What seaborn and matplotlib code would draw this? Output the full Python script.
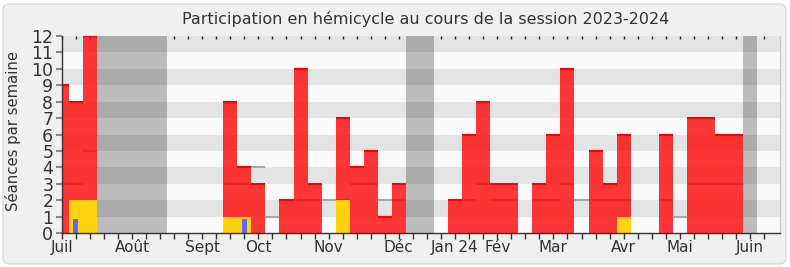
import numpy as np
import pandas as pd
import matplotlib
matplotlib.use("Agg")
import matplotlib.pyplot as plt
from matplotlib.patches import FancyBboxPatch
import seaborn as sns

# ---- data (weeks of the 2023-2024 session, week 0 = first week of July) ----
weeks = list(range(51))
seances_weeks = [0, 1, 2, 12, 13, 14, 16, 17, 18, 20, 21, 22, 23, 24, 28, 29, 30, 31, 32,
                 34, 35, 36, 38, 39, 40, 43, 45, 46, 47, 48]
seances_vals = [9, 8, 12, 8, 4, 3, 2, 10, 3, 7, 4, 5, 1, 3, 2, 6, 8, 3, 3,
                3, 6, 10, 5, 3, 6, 6, 7, 7, 6, 6]
interv_weeks = [1, 2, 12, 13, 20, 40]
interv_vals = [2, 2, 1, 1, 2, 1]
questions_weeks = [1, 13]
questions_vals = [0.87, 0.87]
median_weeks = [0, 1, 2, 12, 13, 14, 15, 16, 17, 18, 19, 20, 21, 22, 23, 24, 28, 29, 30, 31, 32,
                34, 35, 36, 37, 38, 39, 40, 43, 44, 45, 46, 47, 48]
median_vals = [3, 3, 5, 3, 3, 4, 1, 2, 2, 2, 2, 2, 3, 3, 2, 2, 2, 2, 3, 2, 2,
               2, 2, 3, 2, 2, 2, 2, 2, 1, 3, 3, 3, 3]
vacances_weeks = [3, 4, 5, 6, 7, 25, 26, 49]
month_ticks = [0, 5, 10, 14, 19, 24, 28, 31, 35, 40, 44, 49]
month_labels = ["Juil", "Août", "Sept", "Oct", "Nov", "Déc", "Jan 24", "Fév", "Mar", "Avr", "Mai", "Juin"]


def full(ws, vs):
    d = dict(zip(ws, vs))
    return [d.get(w, 0) for w in weeks]


df = pd.DataFrame({
    "week": weeks,
    "seances": full(seances_weeks, seances_vals),
    "interventions": full(interv_weeks, interv_vals),
    "questions": full(questions_weeks, questions_vals),
})

sns.set_style("white")
plt.rcParams["font.family"] = ["DejaVu Sans"]

W, H = 790, 267
fig = plt.figure(figsize=(W / 100, H / 100), dpi=100)
fig.patch.set_facecolor("white")
frame = FancyBboxPatch((3 / W, 3 / H), 1 - 7 / W, 1 - 7 / H,
                       boxstyle="round,pad=0,rounding_size=0.008",
                       mutation_aspect=W / H,
                       transform=fig.transFigure, fc="#f0f0f0", ec="#dcdcdc", lw=1,
                       zorder=-10)
fig.patches.append(frame)

x0, x1 = 61.7, 780.3
y_top, y_bot = 36, 233
ax = fig.add_axes([x0 / W, 1 - y_bot / H, (x1 - x0) / W, (y_bot - y_top) / H])
ax.set_zorder(5)
ax.set_facecolor("#fafafa")

# vacation bands
for w in vacances_weeks:
    ax.axvspan(w - 0.5, w + 0.5, color="#bcbcbc", lw=0, zorder=0.5)
# alternating stripes
for k in range(1, 12, 2):
    ax.axhspan(k, k + 1, color="black", alpha=0.085, lw=0, zorder=0.6)

# median line
mw = np.array(median_weeks)
ax.hlines(median_vals, mw - 0.5, mw + 0.5, color="#aaaaaa", lw=1.5, zorder=1)

# bars
sns.barplot(data=df, x="week", y="seances", native_scale=True, width=1,
            color="#ff0000", saturation=1, alpha=0.78, errorbar=None,
            linewidth=0, ax=ax, zorder=2)
sw = np.array(seances_weeks)
ax.hlines(seances_vals, sw - 0.5, sw + 0.5, color="#ff0000", lw=1.5, zorder=2.5)
sns.barplot(data=df, x="week", y="interventions", native_scale=True, width=1,
            color="#ffd30f", saturation=1, errorbar=None,
            linewidth=0, ax=ax, zorder=3)
sns.barplot(data=df, x="week", y="questions", native_scale=True, width=0.33,
            color="#6666ff", saturation=1, errorbar=None,
            linewidth=0, ax=ax, zorder=4)

ax.set_xlim(0, 51.15)
ax.set_ylim(0, 12)
ax.set_xlabel("")
ax.set_ylabel("")

ax.set_yticks(range(13))
ax.set_yticklabels([str(v) for v in range(13)], fontsize=12.5, color="#333333")
ax.set_xticks(weeks, minor=True)
ax.set_xticks(month_ticks)
ax.set_xticklabels(month_labels, fontsize=11, color="#333333")
ax.tick_params(axis="x", which="both", bottom=True, top=False, direction="out",
               length=4, width=1, color="#333333", pad=1)
ax.tick_params(axis="y", which="major", left=True, length=4, width=1.5,
               color="#888888", pad=2)

ax.spines["top"].set_visible(False)
ax.spines["left"].set_color("#333333")
ax.spines["bottom"].set_color("#333333")
ax.spines["right"].set_color("#cccccc")
for s in ["left", "bottom", "right"]:
    ax.spines[s].set_linewidth(1)
    ax.spines[s].set_zorder(5)

# top tick dots
secax = ax.secondary_xaxis("top")
secax.set_xticks(weeks)
secax.set_xticklabels([])
secax.tick_params(direction="in", length=2, width=1, color="#222222")
secax.spines["top"].set_visible(False)

fig.text(0.539, 1 - 19 / H, "Participation en hémicycle au cours de la session 2023-2024",
         ha="center", va="center", fontsize=11.5, color="#333333")
fig.text(13 / W, 1 - 131 / H, "Séances par semaine", rotation=90,
         ha="center", va="center", fontsize=10.7, color="#333333")

fig.savefig("out.png", dpi=100, facecolor=fig.get_facecolor())
